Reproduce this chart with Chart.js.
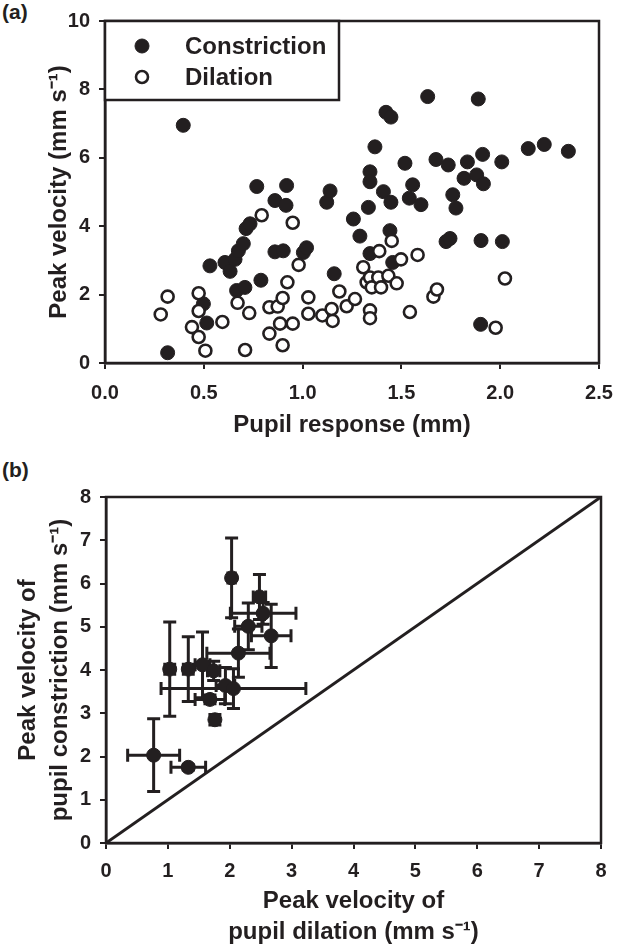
<!DOCTYPE html>
<html><head><meta charset="utf-8">
<script src="https://cdn.jsdelivr.net/npm/chart.js@4.4.1/dist/chart.umd.min.js"></script>
<style>
html,body{margin:0;padding:0;background:#fff;}
body{width:626px;height:946px;position:relative;overflow:hidden;font-family:"Liberation Sans",Arial,sans-serif;}
#ca{position:absolute;left:0;top:0;}
#cb{position:absolute;left:0;top:470px;}
.lab{position:absolute;font-weight:bold;font-size:21px;color:#231f20;line-height:24px;}
</style></head><body>
<div class="lab" style="left:2px;top:0px">(a)</div>
<div class="lab" style="left:2px;top:458px">(b)</div>
<canvas id="ca" width="626" height="470"></canvas>
<canvas id="cb" width="626" height="476"></canvas>
<script>
// ---------- Panel (a) data ----------
const conX = [0.317,0.396,0.498,0.515,0.531,0.607,0.633,0.658,0.675,0.700,0.714,0.734,0.666,0.708,0.768,0.789,0.860,0.916,0.919,0.860,0.902,1.004,1.020,1.122,1.139,1.160,1.257,1.290,1.333,1.341,1.341,1.341,1.366,1.409,1.422,1.447,1.447,1.442,1.456,1.518,1.540,1.557,1.599,1.633,1.675,1.737,1.726,1.746,1.760,1.776,1.817,1.834,1.881,1.889,1.911,1.915,1.903,1.901,2.008,2.011,2.142,2.223,2.345];
const conY = [0.30,6.95,1.73,1.17,2.84,2.94,2.68,3.03,3.28,3.49,3.93,4.07,2.12,2.21,5.16,2.42,4.75,4.61,5.19,3.25,3.28,3.23,3.37,4.70,5.03,2.61,4.21,3.71,4.55,3.20,5.59,5.30,6.32,5.01,7.33,7.19,4.70,3.87,2.94,5.84,4.82,5.21,4.63,7.79,5.95,5.79,3.55,3.64,4.92,4.53,5.40,5.88,5.50,7.72,6.10,5.24,3.58,1.13,5.88,3.55,6.27,6.39,6.19];
const dilX = [0.282,0.317,0.440,0.474,0.474,0.474,0.508,0.594,0.671,0.709,0.730,0.793,0.832,0.874,0.899,0.832,0.886,0.899,0.923,0.950,0.950,0.980,1.029,1.029,1.100,1.147,1.152,1.186,1.223,1.265,1.307,1.324,1.341,1.350,1.383,1.388,1.397,1.434,1.451,1.476,1.498,1.582,1.341,1.341,1.543,1.662,1.680,2.024,1.977];
const dilY = [1.42,1.94,1.05,2.04,1.52,0.76,0.36,1.20,1.76,0.38,1.46,4.32,1.63,1.65,1.90,0.86,1.15,0.52,2.36,4.10,1.15,2.87,1.92,1.44,1.39,1.58,1.23,2.09,1.66,1.87,2.80,2.36,2.50,2.21,2.50,3.27,2.21,2.55,3.57,2.33,3.03,3.16,1.54,1.31,1.49,1.94,2.15,2.47,1.03];
const seriesNamesA = ['Constriction','Dilation'];
const xTicksA = [0,0.5,1.0,1.5,2.0,2.5];
const yTicksA = [0,2,4,6,8,10];

// ---------- Panel (b) data ----------
const bX    = [2.03,2.48,2.54,2.30,2.67,2.14,1.03,1.33,1.56,1.74,1.93,2.06,1.68,1.76,0.77,1.33];
const bY    = [6.13,5.69,5.31,5.01,4.79,4.39,4.02,4.02,4.12,3.98,3.64,3.57,3.32,2.85,2.03,1.75];
const bXErr = [0.06,0.10,0.53,0.22,0.32,0.51,0.08,0.08,0.12,0.10,0.15,1.17,0.24,0.06,0.42,0.28];
const bYErr = [0.92,0.52,0.25,0.54,0.73,0.56,1.09,0.75,0.76,0.22,0.42,0.46,0.10,0.12,0.84,0.06];
const diagX = [0,8];
const diagY = [0,8];
const ticksB = [0,1,2,3,4,5,6,7,8];

const dark = '#231f20';
const FAM = "'Liberation Sans', Arial, Helvetica, sans-serif";
const tickFont = {family:FAM, size:20, weight:'bold'};
const titleFont = {family:FAM, size:24, weight:'bold', lineHeight:1.2};

const framePlugin = {
  id:'frame',
  afterDatasetsDraw(chart){
    const {ctx, chartArea:a} = chart;
    ctx.save(); ctx.strokeStyle = dark; ctx.lineWidth = 2.5;
    ctx.strokeRect(a.left, a.top, a.right-a.left, a.bottom-a.top);
    ctx.restore();
  }
};

const legendBoxPlugin = {
  id:'legendBox',
  afterDraw(chart){
    const {ctx, chartArea:a} = chart;
    const w = 234, h = 79;
    ctx.save();
    ctx.fillStyle = '#fff'; ctx.fillRect(a.left, a.top, w, h);
    ctx.strokeStyle = dark; ctx.lineWidth = 2.5; ctx.strokeRect(a.left, a.top, w, h);
    chart.data.datasets.forEach((d, i) => {
      const cx = a.left + 37, cy = a.top + 25 + i*31;
      ctx.beginPath(); ctx.arc(cx, cy, d.pointRadius, 0, Math.PI*2);
      ctx.fillStyle = d.backgroundColor; ctx.fill();
      ctx.lineWidth = d.borderWidth; ctx.strokeStyle = d.borderColor; ctx.stroke();
      ctx.fillStyle = dark; ctx.font = 'bold 24px ' + FAM; ctx.textBaseline = 'middle'; ctx.textAlign = 'left';
      ctx.fillText(d.label, a.left + 80, cy + 1);
    });
    ctx.restore();
  }
};

const errorBarPlugin = {
  id:'errbars',
  beforeDatasetsDraw(chart){
    const ctx = chart.ctx, xs = chart.scales.x, ys = chart.scales.y;
    chart.data.datasets.forEach(d => {
      if (!d.errX) return;
      ctx.save(); ctx.strokeStyle = dark; ctx.lineWidth = 3;
      d.data.forEach((p, j) => {
        const cx = xs.getPixelForValue(p.x), cy = ys.getPixelForValue(p.y);
        const x1 = xs.getPixelForValue(p.x - d.errX[j]), x2 = xs.getPixelForValue(p.x + d.errX[j]);
        const y1 = ys.getPixelForValue(p.y - d.errY[j]), y2 = ys.getPixelForValue(p.y + d.errY[j]);
        const cap = 6.5;
        ctx.beginPath();
        ctx.moveTo(x1, cy); ctx.lineTo(x2, cy);
        ctx.moveTo(x1, cy-cap); ctx.lineTo(x1, cy+cap);
        ctx.moveTo(x2, cy-cap); ctx.lineTo(x2, cy+cap);
        ctx.moveTo(cx, y1); ctx.lineTo(cx, y2);
        ctx.moveTo(cx-cap, y1); ctx.lineTo(cx+cap, y1);
        ctx.moveTo(cx-cap, y2); ctx.lineTo(cx+cap, y2);
        ctx.stroke();
      });
      ctx.restore();
    });
  }
};

function axisCommon(tickVals, fmt, pad){
  return {
    type:'linear',
    min: tickVals[0], max: tickVals[tickVals.length-1],
    afterBuildTicks: s => { s.ticks = tickVals.map(v => ({value:v})); },
    ticks:{font:tickFont, color:dark, padding:pad, callback: v => fmt(v)},
    grid:{drawOnChartArea:false, drawTicks:true, tickLength:6, color:dark, lineWidth:2},
    border:{display:true, color:dark, width:2.5}
  };
}

// ---------- Chart (a) ----------
const xa = axisCommon(xTicksA, v => v.toFixed(1), 12);
xa.title = {display:true, text:'Pupil response (mm)', font:titleFont, color:dark, padding:{top:0, bottom:30}};
xa.afterFit = s => { s.height = 107; };
const ya = axisCommon(yTicksA, v => String(v), 9);
ya.title = {display:true, text:'Peak velocity (mm s\u207B\u00B9)', font:titleFont, color:dark, padding:{top:45, bottom:0}};
ya.afterFit = s => { s.width = 105; };

new Chart(document.getElementById('ca'), {
  type:'scatter',
  data:{datasets:[
    {label:seriesNamesA[0], data:conX.map((x,i)=>({x, y:conY[i]})), backgroundColor:dark, borderColor:dark, borderWidth:1, pointRadius:7, order:2},
    {label:seriesNamesA[1], data:dilX.map((x,i)=>({x, y:dilY[i]})), backgroundColor:'#ffffff', borderColor:dark, borderWidth:2.6, pointRadius:6, order:1}
  ]},
  options:{
    responsive:false, animation:false, events:[],
    layout:{padding:{top:18, right:27, left:0, bottom:0}},
    plugins:{legend:{display:false}, tooltip:{enabled:false}},
    scales:{x:xa, y:ya}
  },
  plugins:[framePlugin, legendBoxPlugin]
});

// ---------- Chart (b) ----------
const xb = axisCommon(ticksB, v => String(v), 10);
xb.title = {display:true, text:['Peak velocity of','pupil dilation (mm s\u207B\u00B9)'], font:{family:FAM, size:24, weight:'bold', lineHeight:1.3}, color:dark, padding:{top:0, bottom:-2}};
xb.afterFit = s => { s.height = 103; };
const yb = axisCommon(ticksB, v => String(v), 9);
yb.title = {display:true, text:['Peak velocity of','pupil constriction (mm s\u207B\u00B9)'], font:{family:FAM, size:24, weight:'bold', lineHeight:1.35}, color:dark, padding:{top:12, bottom:0}};
yb.afterFit = s => { s.width = 106; };

new Chart(document.getElementById('cb'), {
  type:'scatter',
  data:{datasets:[
    {label:'Mean', data:bX.map((x,i)=>({x, y:bY[i]})), errX:bXErr, errY:bYErr, backgroundColor:dark, borderColor:dark, borderWidth:1, pointRadius:7, order:1},
    {type:'line', label:'Unity', data:diagX.map((x,i)=>({x, y:diagY[i]})), borderColor:dark, borderWidth:3, pointRadius:0, fill:false, order:2}
  ]},
  options:{
    responsive:false, animation:false, events:[],
    layout:{padding:{top:27, right:25, left:0, bottom:0}},
    plugins:{legend:{display:false}, tooltip:{enabled:false}},
    scales:{x:xb, y:yb}
  },
  plugins:[errorBarPlugin, framePlugin]
});
</script>
</body></html>
